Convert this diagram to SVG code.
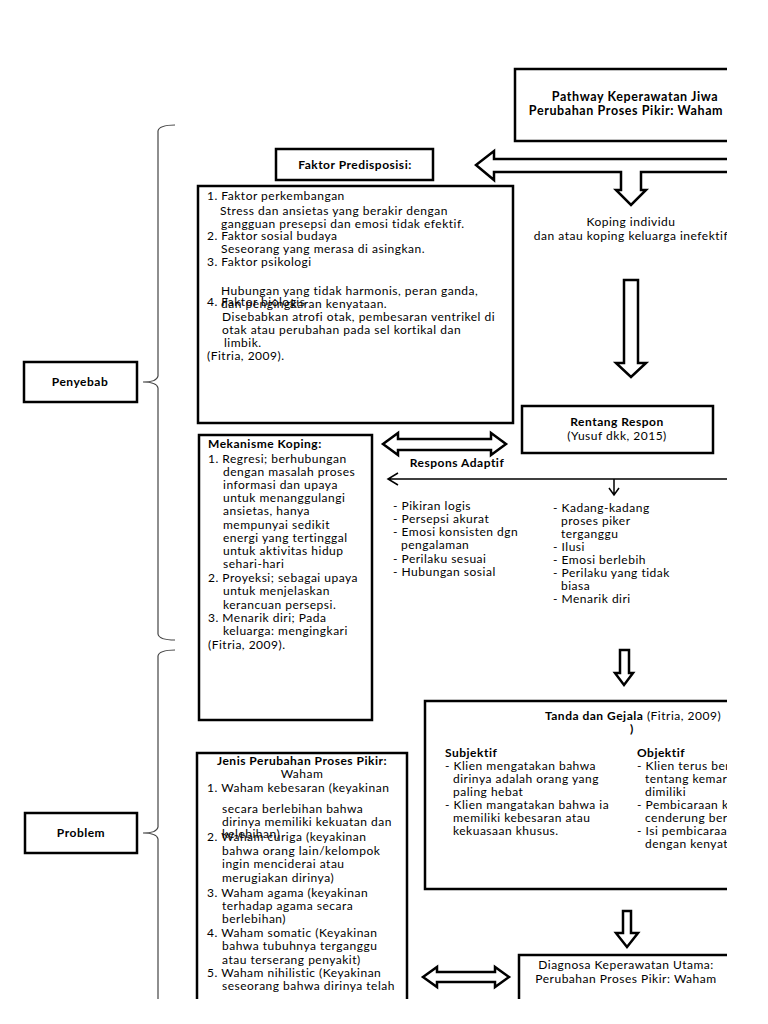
<svg xmlns="http://www.w3.org/2000/svg" width="768" height="1024" viewBox="0 0 768 1024">
<style>
text{font-family:Lato,"Liberation Sans",sans-serif;font-size:12px;letter-spacing:0.5px;fill:#000}
.b{font-weight:bold}
.m{text-anchor:middle}
.t{font-size:12.5px;letter-spacing:0.6px}
.box{fill:#fff;stroke:#000;stroke-width:2.5}
.arr{fill:#fff;stroke:#000;stroke-width:2.5;stroke-linejoin:miter}
.br{fill:none;stroke:#444;stroke-width:1.2}
.thin{fill:none;stroke:#000;stroke-width:1.5}
</style>
<defs>
<clipPath id="page"><rect x="0" y="0" width="727" height="999"/></clipPath>
</defs>
<rect width="768" height="1024" fill="#fff"/>
<g clip-path="url(#page)">
<g id="connectors">
<path class="arr" d="M740,159 L494,159 L494,151 L476,165 L494,180 L494,172 L621,172 L621,190 L616,190 L631,205 L646,190 L641,190 L641,172 L740,172"/>
<path class="arr" d="M624,280 L638,280 L638,363 L646,363 L631,377 L616,363 L624,363 Z"/>
<path class="arr" d="M383,444 L398,433 L398,439 L491,439 L491,433 L506,444 L491,455 L491,450 L398,450 L398,455 Z"/>
<path class="thin" d="M388,479 L740,479 M398,473 L388,479 L398,485"/>
<path class="thin" d="M614,479 L614,494 M609,488 L614,495 L619,488"/>
<path class="arr" d="M620,650 L629,650 L629,673 L633,673 L624,685 L615,673 L620,673 Z"/>
<path class="arr" d="M623,911 L631,911 L631,933 L638,933 L627,947 L616,933 L623,933 Z"/>
<path class="arr" d="M423,977 L437,967 L437,972 L495,972 L495,967 L509,977 L495,987 L495,982 L437,982 L437,987 Z"/>
<path class="br" d="M175,125 Q159,125 158,131 L158,376 Q157,382 143,382 Q157,382 158,388 L158,634 Q159,640 175,640"/>
<path class="br" d="M175,650 Q159,650 158,656 L158,827 Q157,833 143,833 Q157,833 158,839 L158,1010"/>
</g>
<g id="title">
<rect class="box" x="515" y="69" width="260" height="72"/>
<text class="b m t" x="635" y="101">Pathway Keperawatan Jiwa</text>
<text class="b m t" x="626" y="115">Perubahan Proses Pikir: Waham</text>
</g>
<g id="faktor-predisposisi">
<rect class="box" x="276" y="149" width="157" height="31"/>
<text class="b m" x="355" y="169">Faktor Predisposisi:</text>
</g>
<g id="faktor-list">
<rect class="box" x="198" y="186" width="315" height="237"/>
<text x="207" y="200">1. Faktor perkembangan</text>
<text x="220" y="215">Stress dan ansietas yang berakir dengan</text>
<text x="221" y="228">gangguan presepsi dan emosi tidak efektif.</text>
<text x="207" y="240">2. Faktor sosial budaya</text>
<text x="221" y="253">Seseorang yang merasa di asingkan.</text>
<text x="207" y="266">3. Faktor psikologi</text>
<text x="221" y="295">Hubungan yang tidak harmonis, peran ganda,</text>
<text x="207" y="306">4. Faktor biologis</text>
<text x="221" y="308">dan pengingkaran kenyataan.</text>
<text x="222" y="321">Disebabkan atrofi otak, pembesaran ventrikel di</text>
<text x="222" y="334">otak atau perubahan pada sel kortikal dan</text>
<text x="224" y="347">limbik.</text>
<text x="207" y="360">(Fitria, 2009).</text>
</g>
<g id="koping-individu">
<text class="m" x="631" y="226">Koping individu</text>
<text class="m" x="631" y="240">dan atau koping keluarga inefektif</text>
</g>
<g id="rentang-respon">
<rect class="box" x="522" y="406" width="191" height="47"/>
<text class="b m" x="617" y="426">Rentang Respon</text>
<text class="m" x="617" y="440">(Yusuf dkk, 2015)</text>
</g>
<g id="mekanisme-koping">
<rect class="box" x="199" y="435" width="173" height="285"/>
<text class="b" x="208" y="448">Mekanisme Koping:</text>
<text x="208" y="463">1. Regresi; berhubungan</text>
<text x="223" y="476">dengan masalah proses</text>
<text x="223" y="489">informasi dan upaya</text>
<text x="223" y="502">untuk menanggulangi</text>
<text x="223" y="515">ansietas, hanya</text>
<text x="223" y="529">mempunyai sedikit</text>
<text x="223" y="542">energi yang tertinggal</text>
<text x="223" y="555">untuk aktivitas hidup</text>
<text x="223" y="568">sehari-hari</text>
<text x="208" y="582">2. Proyeksi; sebagai upaya</text>
<text x="223" y="595">untuk menjelaskan</text>
<text x="223" y="609">kerancuan persepsi.</text>
<text x="208" y="622">3. Menarik diri; Pada</text>
<text x="223" y="635">keluarga: mengingkari</text>
<text x="208" y="649">(Fitria, 2009).</text>
</g>
<g id="respons-adaptif">
<text class="b m" x="457" y="467">Respons Adaptif</text>
<text x="393" y="510">- Pikiran logis</text>
<text x="393" y="523">- Persepsi akurat</text>
<text x="393" y="536">- Emosi konsisten dgn</text>
<text x="401" y="549">pengalaman</text>
<text x="393" y="563">- Perilaku sesuai</text>
<text x="393" y="576">- Hubungan sosial</text>
</g>
<g id="respons-maladaptif">
<text x="553" y="512">- Kadang-kadang</text>
<text x="561" y="525">proses piker</text>
<text x="561" y="538">terganggu</text>
<text x="553" y="551">- Ilusi</text>
<text x="553" y="564">- Emosi berlebih</text>
<text x="553" y="577">- Perilaku yang tidak</text>
<text x="561" y="590">biasa</text>
<text x="553" y="603">- Menarik diri</text>
</g>
<g id="tanda-gejala">
<rect class="box" x="425" y="701" width="360" height="188"/>
<text class="m" x="633" y="720"><tspan class="b">Tanda dan Gejala</tspan> (Fitria, 2009)</text>
<text class="b" x="630" y="733">)</text>
<text class="b" x="445" y="757">Subjektif</text>
<text x="445" y="770">- Klien mengatakan bahwa</text>
<text x="453" y="783">dirinya adalah orang yang</text>
<text x="453" y="796">paling hebat</text>
<text x="445" y="809">- Klien mangatakan bahwa ia</text>
<text x="453" y="822">memiliki kebesaran atau</text>
<text x="453" y="835">kekuasaan khusus.</text>
<text class="b" x="637" y="757">Objektif</text>
<text x="637" y="770">- Klien terus ber</text>
<text x="645" y="783">tentang kemar</text>
<text x="645" y="796">dimiliki</text>
<text x="637" y="809">- Pembicaraan k</text>
<text x="645" y="822">cenderung ber</text>
<text x="637" y="835">- Isi pembicaraa</text>
<text x="645" y="848">dengan kenyat</text>
</g>
<g id="jenis-perubahan">
<rect class="box" x="197" y="753" width="210" height="270"/>
<text class="b m" x="302" y="765">Jenis Perubahan Proses Pikir:</text>
<text class="m" x="302" y="778">Waham</text>
<text x="207" y="792">1. Waham kebesaran (keyakinan</text>
<text x="222" y="813">secara berlebihan bahwa</text>
<text x="222" y="826">dirinya memiliki kekuatan dan</text>
<text x="222" y="838">kelebihan)</text>
<text x="207" y="841">2. Waham curiga (keyakinan</text>
<text x="222" y="855">bahwa orang lain/kelompok</text>
<text x="222" y="868">ingin menciderai atau</text>
<text x="222" y="882">merugiakan dirinya)</text>
<text x="207" y="897">3. Waham agama (keyakinan</text>
<text x="222" y="910">terhadap agama secara</text>
<text x="222" y="923">berlebihan)</text>
<text x="207" y="937">4. Waham somatic (Keyakinan</text>
<text x="222" y="950">bahwa tubuhnya terganggu</text>
<text x="222" y="964">atau terserang penyakit)</text>
<text x="207" y="977">5. Waham nihilistic (Keyakinan</text>
<text x="222" y="990">seseorang bahwa dirinya telah</text>
</g>
<g id="diagnosa">
<rect class="box" x="519" y="955" width="260" height="80"/>
<text class="m" x="626" y="969">Diagnosa Keperawatan Utama:</text>
<text class="m" x="626" y="983">Perubahan Proses Pikir: Waham</text>
</g>
<g id="penyebab">
<rect class="box" x="24" y="362" width="113" height="40"/>
<text class="b m" x="80" y="386">Penyebab</text>
</g>
<g id="problem">
<rect class="box" x="25" y="813" width="112" height="40"/>
<text class="b m" x="81" y="837">Problem</text>
</g>
</g>
</svg>
